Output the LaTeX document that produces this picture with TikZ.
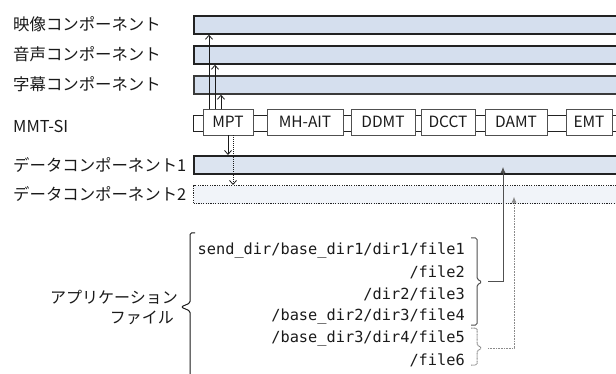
\documentclass[tikz,border=0pt]{standalone}
\usepackage{fontspec}
\setmainfont{Noto Sans CJK JP}
\newfontfamily\monof{DejaVu Sans Mono}
\usetikzlibrary{arrows.meta}
\definecolor{barfill}{HTML}{D5DFEE}
\definecolor{dfill}{HTML}{DCE4F0}
\definecolor{d2fill}{HTML}{F1F4F9}
\definecolor{barline}{HTML}{222222}
\definecolor{bar3line}{HTML}{3A3A3A}
\definecolor{boxline}{HTML}{505050}
\definecolor{txt}{HTML}{1A1A1A}
\definecolor{conn}{HTML}{505050}
\definecolor{dotconn}{HTML}{8A8A8A}
\begin{document}
\begin{tikzpicture}[x=1pt,y=-1pt,
  lab/.style={anchor=west,inner sep=0pt,text=txt,font=\fontsize{16.4}{19}\selectfont},
  rlab/.style={anchor=east,inner sep=0pt,text=txt,font=\fontsize{16}{19}\selectfont},
  bar/.style={anchor=north west,inner sep=0pt,minimum width=440pt,minimum height=18pt,draw=barline,line width=1.7pt,fill=barfill},
  sibox/.style={draw=boxline,line width=0.9pt,fill=white,inner sep=0pt,minimum height=26pt,text=txt,font=\fontsize{15.5}{18}\selectfont},
  fline/.style={anchor=east,inner sep=0pt,text=txt,font=\monof\fontsize{15.3}{18}\selectfont},
  uparr/.style={draw=txt,line width=0.8pt,-{Straight Barb[length=4pt,width=7pt]}},
  fileup/.style={draw=conn,line width=1pt,-{Latex[length=6pt,width=5pt]}},
  dotfileup/.style={draw=dotconn,line width=1pt,dash pattern=on 1pt off 0.6pt,-{Latex[length=6pt,width=5pt]}},
  bracesolid/.style={draw=conn,line width=1pt,rounded corners=1.5pt},
  bracedot/.style={draw=dotconn,line width=1pt,dash pattern=on 1pt off 0.6pt,rounded corners=1.5pt}
]
\useasboundingbox (0,0) rectangle (616,374);
\clip (0,0) rectangle (616,374);

% labels
\node[lab] (l1) at (13,24) {映像コンポーネント};
\node[lab] (l2) at (13,54) {音声コンポーネント};
\node[lab] (l3) at (13,84) {字幕コンポーネント};
\node[lab] (l4) at (13,126) {MMT-SI};
\node[lab] (l5) at (13,165) {データコンポーネント1};
\node[lab] (l6) at (13,194) {データコンポーネント2};

% component bars
\node[bar] (v) at (193,15) {};
\node[bar] (a) at (193,45) {};
\node[bar,draw=bar3line] (s) at (193,75) {};
\node[bar,fill=dfill] (d1) at (193,155) {};
\node[bar,fill=d2fill,draw=barline,line width=1.2pt,dash pattern=on 1.2pt off 1.2pt] (d2) at (193,185) {};

% MMT-SI backbone and tables
\node[anchor=north west,draw=barline,line width=1.1pt,fill=white,minimum width=440pt,minimum height=16pt,inner sep=0pt] (si) at (193,115) {};
\node[sibox,minimum width=50pt] (mpt) at (228,122) {MPT};
\node[sibox,minimum width=76pt] (mhait) at (305,122) {MH-AIT};
\node[sibox,minimum width=64pt] (ddmt) at (383,122) {DDMT};
\node[sibox,minimum width=54pt] (dcct) at (448,122) {DCCT};
\node[sibox,minimum width=62pt] (damt) at (516,122) {DAMT};
\node[sibox,minimum width=46pt] (emt) at (589,122) {EMT};

% arrow columns
\coordinate (c1) at (209,0);
\coordinate (c2) at (215,0);
\coordinate (c3) at (221,0);
\coordinate (c4) at (228,0);
\coordinate (c5) at (233,0);
\coordinate (c6) at (503,0);
\coordinate (c7) at (514,0);

\draw[uparr] (mpt.north -| c1) -- (v.south -| c1);
\draw[uparr] (mpt.north -| c2) -- (a.south -| c2);
\draw[uparr] (mpt.north -| c3) -- (s.south -| c3);
\draw[uparr] (mpt.south -| c4) -- (d1.north -| c4);
\draw[uparr,dash pattern=on 1pt off 1pt] (mpt.south -| c5) -- (d2.north -| c5);

% application files
\node[rlab] (app1) at (178,297) {アプリケーション};
\node[rlab] (app2) at (174,318) {ファイル};

\node[fline] (f1) at (465,250) {send\_dir/base\_dir1/dir1/file1};
\node[fline] (f2) at (465,272) {/file2};
\node[fline] (f3) at (465,294) {/dir2/file3};
\node[fline] (f4) at (465,316) {/base\_dir2/dir3/file4};
\node[fline] (f5) at (465,338) {/base\_dir3/dir4/file5};
\node[fline] (f6) at (465,360) {/file6};

% left brace
\coordinate (lbtip) at (181,307);
\draw[draw=txt,line width=1pt,rounded corners=1.5pt] (195,233) -- (190,233) -- (190,303) -- (lbtip) -- (190,311) -- (190,380);

% right braces
\coordinate (b1tip) at (482,282);
\coordinate (b2tip) at (482,348);
\draw[bracesolid] (471,238) -- (477,238) -- (477,279) -- (b1tip) -- (477,285) -- (477,325) -- (471,325);
\draw[bracedot] (471,328) -- (477,328) -- (477,345) -- (b2tip) -- (477,351) -- (477,365) -- (471,365);

\draw[fileup] ([xshift=6pt]b1tip) -| ([yshift=-2pt]d1.center -| c6);
\draw[dotfileup] ([xshift=6pt]b2tip) -| ([yshift=-2pt]d2.center -| c7);
\end{tikzpicture}
\end{document}
